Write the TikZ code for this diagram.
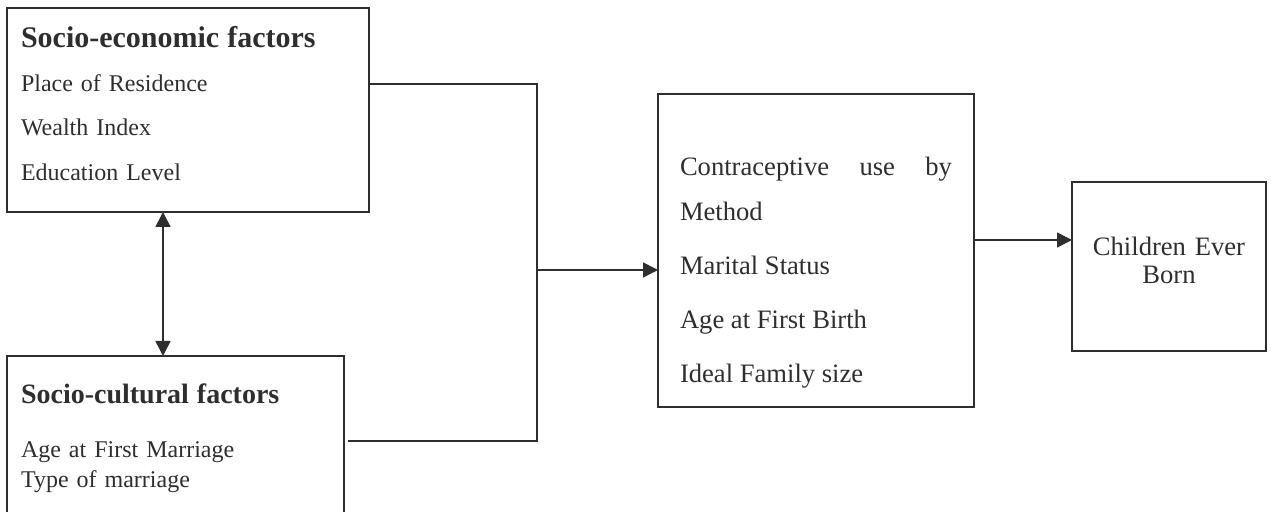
\documentclass[tikz,border=0pt]{standalone}
\usepackage{fontspec}
\setmainfont{Liberation Serif}
\usetikzlibrary{arrows.meta, positioning}
\definecolor{ink}{gray}{0.18}

\begin{document}
\begin{tikzpicture}[x=0.5pt, y=-0.5pt, color=ink, line width=0.75pt,
        >={Triangle[length=7.5pt, width=7.5pt]},
        box/.style={draw, rectangle, anchor=north west, inner ysep=0pt, outer sep=0pt}]
        \useasboundingbox (0,0) rectangle (1271,512);

        % Define the boxes
        \node[box, minimum width=181pt, minimum height=102pt, text width=167pt, inner xsep=7pt, align=left,
              font=\fontsize{12}{22.2}\selectfont] (soc_e) at (7,8)
              {{\fontsize{15}{18}\selectfont\bfseries Socio-economic factors}\\
               Place of Residence\\ Wealth Index\\ Education Level\rule[-6.8pt]{0pt}{6.8pt}};
        \node[box, below=72pt of soc_e.south west, anchor=north west, minimum width=168.5pt, minimum height=82pt,
              text width=154.5pt, inner xsep=7pt, align=left, font=\fontsize{12}{15}\selectfont] (soc_c)
              {{\fontsize{14}{17}\selectfont\bfseries Socio-cultural factors}\\[12pt]
               Age at First Marriage\\ Type of marriage};
        \node[box, minimum width=158pt, minimum height=156.5pt, text width=136pt, inner xsep=11pt, align=justify,
              font=\fontsize{13.3}{22.5}\selectfont] (det) at (658,94)
              {\parindent=0pt\parskip=4.5pt\rule{0pt}{31pt}Contraceptive use by Method\par
               Marital Status\par Age at First Birth\par Ideal Family size};
        \node[box, minimum width=97pt, minimum height=84.5pt, text width=89pt, inner xsep=4pt, align=center,
              font=\fontsize{13.3}{14}\selectfont] (ceb) at (1072,182)
              {Children Ever\\ Born\rule[-6.7pt]{0pt}{6.7pt}};

        % Define the links
        \coordinate (up)   at (537,84);
        \coordinate (down) at (537,441);
        \coordinate (join) at (537,270);
        \coordinate (lvl)  at (0,240);
        \coordinate (mid)  at (163,0);

        \draw (soc_e.east |- up) -- (up) -- (down) -- ([xshift=2pt]soc_c.east |- down);
        \path[->]
        (join) edge (det.west |- join)
        (det.east |- lvl) edge (ceb.west |- lvl);
        \draw[<->] (mid |- soc_e.south) -- (mid |- soc_c.north);
\end{tikzpicture}
\end{document}
